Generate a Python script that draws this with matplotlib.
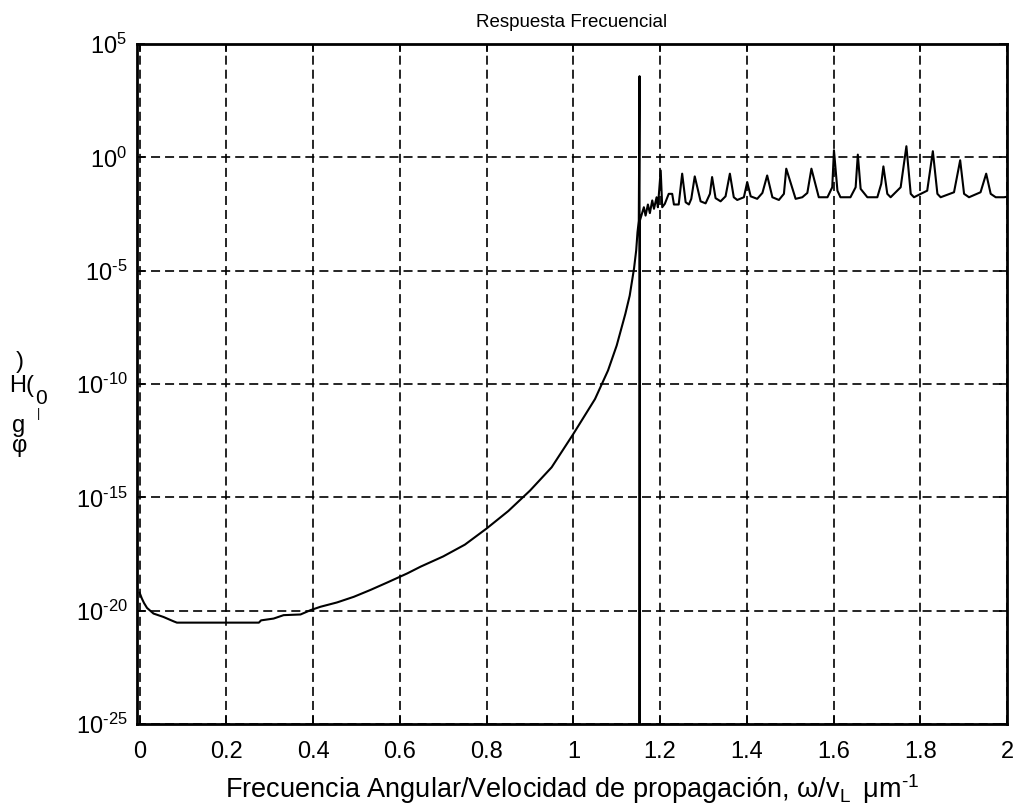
import numpy as np
import matplotlib
matplotlib.use("Agg")
import matplotlib.pyplot as plt

plt.rcParams["font.family"] = ["Liberation Sans", "DejaVu Sans"]
plt.rcParams["mathtext.fontset"] = "custom"
plt.rcParams["mathtext.rm"] = "Liberation Sans"
plt.rcParams["mathtext.it"] = "Liberation Sans:italic"
plt.rcParams["mathtext.default"] = "regular"
plt.rcParams["lines.scale_dashes"] = False

# curve below the resonance (x, log10 |H|)
x_low = [0.0, 0.005, 0.01, 0.017, 0.032, 0.055, 0.078, 0.086,
         0.275, 0.28, 0.309, 0.332, 0.371, 0.394, 0.417,
         0.455, 0.494, 0.532, 0.571, 0.617, 0.648,
         0.7, 0.75, 0.8, 0.85, 0.9, 0.95, 1.0,
         1.05, 1.08, 1.1, 1.12, 1.13, 1.14, 1.145, 1.148, 1.151]
log_low = [-19.2, -19.45, -19.65, -19.87, -20.12, -20.27, -20.46, -20.52,
           -20.52, -20.42, -20.34, -20.19, -20.16, -19.97, -19.82,
           -19.63, -19.38, -19.08, -18.75, -18.35, -18.05,
           -17.6, -17.08, -16.37, -15.6, -14.7, -13.67, -12.2,
           -10.66, -9.4, -8.3, -6.9, -6.1, -4.9, -4.1, -3.3, -2.8]

# resonance at ~1.1527 (goes off the top and the bottom of the axes)
x_res = [1.1527, 1.1527]
log_res = [3.58, -30.0]

# pass band with periodic peaks
x_high = [1.1535, 1.1627, 1.1666, 1.172, 1.1765, 1.182, 1.186, 1.192, 1.195,
          1.2015, 1.205, 1.211, 1.220, 1.228, 1.232, 1.243,
          1.251, 1.259, 1.2665, 1.272,
          1.280, 1.2935, 1.305, 1.315,
          1.320, 1.328, 1.3396, 1.351,
          1.361, 1.370, 1.378, 1.3933,
          1.401, 1.409, 1.424, 1.436,
          1.447, 1.459, 1.474, 1.4856,
          1.491, 1.5126, 1.528, 1.5396,
          1.549, 1.566, 1.586, 1.597,
          1.601, 1.609, 1.616, 1.639, 1.651,
          1.656, 1.6625, 1.678, 1.701, 1.710,
          1.715, 1.724, 1.7317, 1.7548,
          1.768, 1.778, 1.7855, 1.816,
          1.829, 1.8395, 1.847, 1.8778,
          1.892, 1.901, 1.9124, 1.939,
          1.952, 1.9624, 1.974, 1.993, 2.0]
log_high = [-2.79, -2.2, -2.57, -2.08, -2.46, -1.9, -2.27, -1.76, -2.2,
            -0.58, -2.2, -2.05, -1.61, -1.61, -2.08, -2.08,
            -0.72, -1.98, -2.08, -1.83,
            -0.84, -1.94, -2.03, -1.61,
            -0.87, -1.8, -1.94, -1.72,
            -0.72, -1.76, -1.88, -1.76,
            -1.09, -1.72, -1.83, -1.57,
            -0.80, -1.76, -1.88, -1.61,
            -0.50, -1.83, -1.76, -1.57,
            -0.50, -1.76, -1.76, -1.32,
            0.31, -1.47, -1.76, -1.76, -1.32,
            0.12, -1.39, -1.76, -1.76, -1.17,
            -0.40, -1.61, -1.76, -1.32,
            0.49, -1.61, -1.76, -1.47,
            0.27, -1.61, -1.76, -1.54,
            -0.13, -1.61, -1.76, -1.54,
            -0.72, -1.61, -1.76, -1.76, -1.74]

x_ticks = [0, 0.2, 0.4, 0.6, 0.8, 1, 1.2, 1.4, 1.6, 1.8, 2]
x_tick_labels = ["0", "0.2", "0.4", "0.6", "0.8", "1", "1.2", "1.4", "1.6", "1.8", "2"]
y_exps = [5, 0, -5, -10, -15, -20, -25]

HYPHEN = "\u2010"

x = np.array(x_low + x_res + x_high)
h = np.power(10.0, np.array(log_low + log_res + log_high))

fig = plt.figure(figsize=(10.18, 8.11), dpi=100)
ax = fig.add_axes([0.1346, 0.107, 0.8546, 0.8388])

ax.semilogy(x, h, color="black", linewidth=1.5)

ax.set_xlim(-0.006, 2.0)
ax.set_ylim(1e-25, 1e5)
ax.set_xticks(x_ticks)
ax.set_xticklabels(x_tick_labels)
ax.set_yticks([10.0 ** e for e in y_exps])
# plain hyphen in the exponent, like the original
ax.set_yticklabels(["$10^{" + str(e).replace("-", HYPHEN) + "}$" for e in y_exps])
ax.minorticks_off()
ax.tick_params(direction="in", length=6, width=1.2, top=True, right=True,
               labelsize=17, colors="black")
ax.tick_params(axis="x", pad=12)
ax.tick_params(axis="y", pad=7)
for sp in ax.spines.values():
    sp.set_linewidth(2.0)
ax.grid(True, color="black", linestyle=(0, (6.5, 3.6)), linewidth=1.2)

ax.set_title("Respuesta Frecuencial", fontsize=13.5, pad=12)
ax.set_xlabel("Frecuencia Angular/Velocidad de propagación, "
              r"$\omega/v_L\;\;\mu m^{" + HYPHEN + "1}$",
              fontsize=19.5, labelpad=7)

# garbled vertical label as it appears in the original
W, H = 1018.0, 811.0
for ch, px, py, fs in [(")", 20, 362, 17), ("H(", 22, 386, 17),
                       ("0", 41, 398, 15), ("|", 38, 414, 9), ("g", 19, 426, 17),
                       ("φ", 20, 446, 17)]:
    fig.text(px / W, 1 - py / H, ch, fontsize=fs, ha="center", va="center")

fig.savefig("out.png", dpi=100)
